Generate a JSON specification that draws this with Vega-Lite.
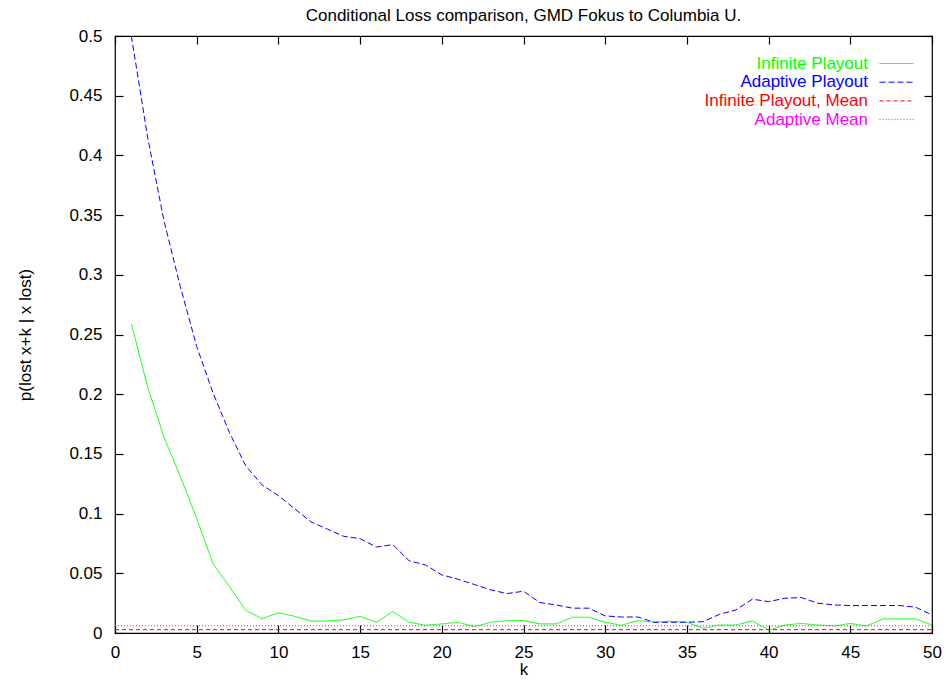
{
  "$schema": "https://vega.github.io/schema/vega-lite/v6.json",
  "width": 817,
  "height": 597,
  "autosize": {"type": "none"},
  "padding": {"left": 115, "top": 36, "right": 15, "bottom": 49},
  "background": "#ffffff",
  "title": {"text": "Conditional Loss comparison, GMD Fokus to Columbia U.", "anchor": "middle", "font": "Liberation Sans", "fontSize": 17, "fontWeight": "normal", "color": "#000000", "offset": 2},
  "config": {
    "view": {"stroke": "#000000", "strokeWidth": 1.2},
    "font": "Liberation Sans",
    "axis": {"labelFont": "Liberation Sans", "titleFont": "Liberation Sans", "labelColor": "#000", "titleColor": "#000", "tickColor": "#000", "domain": false, "grid": false, "titleFontWeight": "normal", "labelFontSize": 17, "titleFontSize": 17, "tickWidth": 1.2}
  },
  "data": {"values": [
    {"k": 1, "p": 0.259, "series": "Infinite Playout"},
    {"k": 2, "p": 0.206, "series": "Infinite Playout"},
    {"k": 3, "p": 0.164, "series": "Infinite Playout"},
    {"k": 4, "p": 0.131, "series": "Infinite Playout"},
    {"k": 5, "p": 0.096, "series": "Infinite Playout"},
    {"k": 6, "p": 0.058, "series": "Infinite Playout"},
    {"k": 7, "p": 0.039, "series": "Infinite Playout"},
    {"k": 8, "p": 0.019, "series": "Infinite Playout"},
    {"k": 9, "p": 0.012, "series": "Infinite Playout"},
    {"k": 10, "p": 0.017, "series": "Infinite Playout"},
    {"k": 11, "p": 0.014, "series": "Infinite Playout"},
    {"k": 12, "p": 0.010, "series": "Infinite Playout"},
    {"k": 13, "p": 0.010, "series": "Infinite Playout"},
    {"k": 14, "p": 0.011, "series": "Infinite Playout"},
    {"k": 15, "p": 0.014, "series": "Infinite Playout"},
    {"k": 16, "p": 0.009, "series": "Infinite Playout"},
    {"k": 17, "p": 0.018, "series": "Infinite Playout"},
    {"k": 18, "p": 0.009, "series": "Infinite Playout"},
    {"k": 19, "p": 0.0065, "series": "Infinite Playout"},
    {"k": 20, "p": 0.0076, "series": "Infinite Playout"},
    {"k": 21, "p": 0.009, "series": "Infinite Playout"},
    {"k": 22, "p": 0.0053, "series": "Infinite Playout"},
    {"k": 23, "p": 0.009, "series": "Infinite Playout"},
    {"k": 24, "p": 0.0104, "series": "Infinite Playout"},
    {"k": 25, "p": 0.0104, "series": "Infinite Playout"},
    {"k": 26, "p": 0.0076, "series": "Infinite Playout"},
    {"k": 27, "p": 0.0076, "series": "Infinite Playout"},
    {"k": 28, "p": 0.0132, "series": "Infinite Playout"},
    {"k": 29, "p": 0.0132, "series": "Infinite Playout"},
    {"k": 30, "p": 0.009, "series": "Infinite Playout"},
    {"k": 31, "p": 0.0065, "series": "Infinite Playout"},
    {"k": 32, "p": 0.0104, "series": "Infinite Playout"},
    {"k": 33, "p": 0.009, "series": "Infinite Playout"},
    {"k": 34, "p": 0.0098, "series": "Infinite Playout"},
    {"k": 35, "p": 0.009, "series": "Infinite Playout"},
    {"k": 36, "p": 0.004, "series": "Infinite Playout"},
    {"k": 37, "p": 0.0067, "series": "Infinite Playout"},
    {"k": 38, "p": 0.0067, "series": "Infinite Playout"},
    {"k": 39, "p": 0.0101, "series": "Infinite Playout"},
    {"k": 40, "p": 0.0025, "series": "Infinite Playout"},
    {"k": 41, "p": 0.0067, "series": "Infinite Playout"},
    {"k": 42, "p": 0.008, "series": "Infinite Playout"},
    {"k": 43, "p": 0.0067, "series": "Infinite Playout"},
    {"k": 44, "p": 0.0059, "series": "Infinite Playout"},
    {"k": 45, "p": 0.008, "series": "Infinite Playout"},
    {"k": 46, "p": 0.0059, "series": "Infinite Playout"},
    {"k": 47, "p": 0.0118, "series": "Infinite Playout"},
    {"k": 48, "p": 0.0118, "series": "Infinite Playout"},
    {"k": 49, "p": 0.0118, "series": "Infinite Playout"},
    {"k": 50, "p": 0.0067, "series": "Infinite Playout"},
    {"k": 1, "p": 0.5, "series": "Adaptive Playout"},
    {"k": 2, "p": 0.415, "series": "Adaptive Playout"},
    {"k": 3, "p": 0.345, "series": "Adaptive Playout"},
    {"k": 4, "p": 0.29, "series": "Adaptive Playout"},
    {"k": 5, "p": 0.24, "series": "Adaptive Playout"},
    {"k": 6, "p": 0.201, "series": "Adaptive Playout"},
    {"k": 7, "p": 0.168, "series": "Adaptive Playout"},
    {"k": 8, "p": 0.140, "series": "Adaptive Playout"},
    {"k": 9, "p": 0.124, "series": "Adaptive Playout"},
    {"k": 10, "p": 0.115, "series": "Adaptive Playout"},
    {"k": 11, "p": 0.104, "series": "Adaptive Playout"},
    {"k": 12, "p": 0.093, "series": "Adaptive Playout"},
    {"k": 13, "p": 0.087, "series": "Adaptive Playout"},
    {"k": 14, "p": 0.081, "series": "Adaptive Playout"},
    {"k": 15, "p": 0.079, "series": "Adaptive Playout"},
    {"k": 16, "p": 0.072, "series": "Adaptive Playout"},
    {"k": 17, "p": 0.074, "series": "Adaptive Playout"},
    {"k": 18, "p": 0.0605, "series": "Adaptive Playout"},
    {"k": 19, "p": 0.057, "series": "Adaptive Playout"},
    {"k": 20, "p": 0.0487, "series": "Adaptive Playout"},
    {"k": 21, "p": 0.045, "series": "Adaptive Playout"},
    {"k": 22, "p": 0.0406, "series": "Adaptive Playout"},
    {"k": 23, "p": 0.0361, "series": "Adaptive Playout"},
    {"k": 24, "p": 0.033, "series": "Adaptive Playout"},
    {"k": 25, "p": 0.035, "series": "Adaptive Playout"},
    {"k": 26, "p": 0.0255, "series": "Adaptive Playout"},
    {"k": 27, "p": 0.0235, "series": "Adaptive Playout"},
    {"k": 28, "p": 0.0208, "series": "Adaptive Playout"},
    {"k": 29, "p": 0.0208, "series": "Adaptive Playout"},
    {"k": 30, "p": 0.0143, "series": "Adaptive Playout"},
    {"k": 31, "p": 0.0134, "series": "Adaptive Playout"},
    {"k": 32, "p": 0.0134, "series": "Adaptive Playout"},
    {"k": 33, "p": 0.009, "series": "Adaptive Playout"},
    {"k": 34, "p": 0.009, "series": "Adaptive Playout"},
    {"k": 35, "p": 0.009, "series": "Adaptive Playout"},
    {"k": 36, "p": 0.0095, "series": "Adaptive Playout"},
    {"k": 37, "p": 0.0157, "series": "Adaptive Playout"},
    {"k": 38, "p": 0.0193, "series": "Adaptive Playout"},
    {"k": 39, "p": 0.0283, "series": "Adaptive Playout"},
    {"k": 40, "p": 0.0263, "series": "Adaptive Playout"},
    {"k": 41, "p": 0.0291, "series": "Adaptive Playout"},
    {"k": 42, "p": 0.0297, "series": "Adaptive Playout"},
    {"k": 43, "p": 0.025, "series": "Adaptive Playout"},
    {"k": 44, "p": 0.0235, "series": "Adaptive Playout"},
    {"k": 45, "p": 0.023, "series": "Adaptive Playout"},
    {"k": 46, "p": 0.023, "series": "Adaptive Playout"},
    {"k": 47, "p": 0.023, "series": "Adaptive Playout"},
    {"k": 48, "p": 0.023, "series": "Adaptive Playout"},
    {"k": 49, "p": 0.0216, "series": "Adaptive Playout"},
    {"k": 50, "p": 0.0151, "series": "Adaptive Playout"},
    {"k": 0, "p": 0.0028, "series": "Infinite Playout, Mean"},
    {"k": 50, "p": 0.0028, "series": "Infinite Playout, Mean"},
    {"k": 0, "p": 0.0061, "series": "Adaptive Mean"},
    {"k": 50, "p": 0.0061, "series": "Adaptive Mean"}
  ]},
  "layer": [
    {
      "mark": {"type": "line", "strokeWidth": 1, "clip": true},
      "encoding": {
        "x": {"field": "k", "type": "quantitative", "scale": {"domain": [0, 50], "nice": false, "zero": false},
              "axis": {"orient": "bottom", "values": [0, 5, 10, 15, 20, 25, 30, 35, 40, 45, 50], "tickSize": -8, "labelPadding": 19, "labelBaseline": "top", "title": "k", "titlePadding": 1, "labelFlush": false}},
        "y": {"field": "p", "type": "quantitative", "scale": {"domain": [0, 0.5], "nice": false},
              "axis": {"orient": "left", "values": [0, 0.05, 0.1, 0.15, 0.2, 0.25, 0.3, 0.35, 0.4, 0.45, 0.5], "format": "~g", "tickSize": -8, "labelPadding": 21, "title": "p(lost x+k | x lost)", "titlePadding": 34, "labelFlush": false}},
        "stroke": {"field": "series", "type": "nominal",
                  "scale": {"domain": ["Infinite Playout", "Adaptive Playout", "Infinite Playout, Mean", "Adaptive Mean"], "range": ["#00ff00", "#0000ff", "#ff0000", "#ff00ff"]},
                  "legend": {"orient": "none", "legendX": 773, "legendY": 19, "title": null, "symbolType": "M-5,0H5", "symbolSize": 46.24, "symbolStrokeWidth": 1, "labelAlign": "right", "labelOffset": -37, "labelFontSize": 17, "labelFont": "Liberation Sans", "labelLimit": 400, "rowPadding": 0.7, "padding": 0,
                             "encode": {
                               "labels": {"update": {"fill": {"signal": "datum.value == 'Infinite Playout' ? '#00ff00' : datum.value == 'Adaptive Playout' ? '#0000ff' : datum.value == 'Adaptive Mean' ? '#ff00ff' : '#ff0000'"}}},
                               "symbols": {"update": {
                                 "strokeDash": {"signal": "datum.value == 'Infinite Playout' ? [] : datum.value == 'Adaptive Playout' ? [6,3] : datum.value == 'Adaptive Mean' ? [1,2] : [4,3]"},
                                 "fill": {"value": "transparent"}
                               }}
                             }}},
        "strokeDash": {"field": "series", "type": "nominal", "legend": null,
                       "scale": {"domain": ["Infinite Playout", "Adaptive Playout", "Infinite Playout, Mean", "Adaptive Mean"], "range": [[1, 0], [6, 3], [4, 3], [1, 2]]}}
      }
    },
    {
      "mark": {"type": "point", "opacity": 0},
      "encoding": {
        "x": {"field": "k", "type": "quantitative", "axis": {"orient": "top", "values": [0, 5, 10, 15, 20, 25, 30, 35, 40, 45, 50], "tickSize": -8, "labels": false, "title": null}},
        "y": {"field": "p", "type": "quantitative", "axis": {"orient": "right", "values": [0, 0.05, 0.1, 0.15, 0.2, 0.25, 0.3, 0.35, 0.4, 0.45, 0.5], "tickSize": -8, "labels": false, "title": null}}
      }
    }
  ],
  "resolve": {"axis": {"x": "independent", "y": "independent"}}
}
